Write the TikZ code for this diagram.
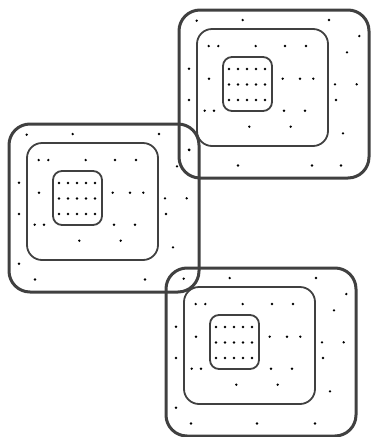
\documentclass[tikz,border=0pt]{standalone}
\usepackage{tikz}

\begin{document}
\begin{tikzpicture}[x=1pt, y=-1pt,
    outerbox/.style={draw=black!75, line width=3pt, rounded corners=21pt},
    midbox/.style={draw=black!75, line width=1.8pt, rounded corners=15pt},
    innerbox/.style={draw=black!75, line width=1.8pt, rounded corners=9pt},
    pt/.style={fill=black, draw=none}]
    \useasboundingbox (0,0) rectangle (371,437);
    % Three nested groups (top right, left, bottom)
    \foreach \gx/\gy/\bottom in {179/10/{59,133,162}, 9/124/{26,136}, 166/268/{25,91,149}} {
      \begin{scope}[shift={(\gx,\gy)}]
        % Nested boxes
        \draw[outerbox] (0, 0)  rectangle (190, 168);
        \draw[midbox]   (18, 19) rectangle (149, 136);
        \draw[innerbox] (44, 47) rectangle (93, 101);
        % Dot grid in the inner box
        \foreach \px in {50, 59, 68, 77, 86}
          \foreach \py in {59, 74.5, 90}
            \fill[pt] (\px, \py) circle (1.3pt);
        % Scattered dots
        \foreach \px/\py in {17.7/10.7, 63.7/10, 150/10, 180.3/26,
            29.7/36, 39.3/36, 76.7/36, 106/36, 127/36, 168/42.3,
            10/58.7, 30/68.7, 103.7/68.7, 121/68.7, 134.3/68.7,
            156/74.3, 177.7/74.3, 10/90, 157/90,
            25.7/100.7, 35/100.7, 105/100.7, 126/100.7,
            70.3/116.7, 111.7/116.7, 164/123.3, 10/139.7}
          \fill[pt] (\px, \py) circle (1.3pt);
        % Bottom row differs per group
        \foreach \px in \bottom
          \fill[pt] (\px, 155.5) circle (1.3pt);
      \end{scope}
    }
\end{tikzpicture}
\end{document}
